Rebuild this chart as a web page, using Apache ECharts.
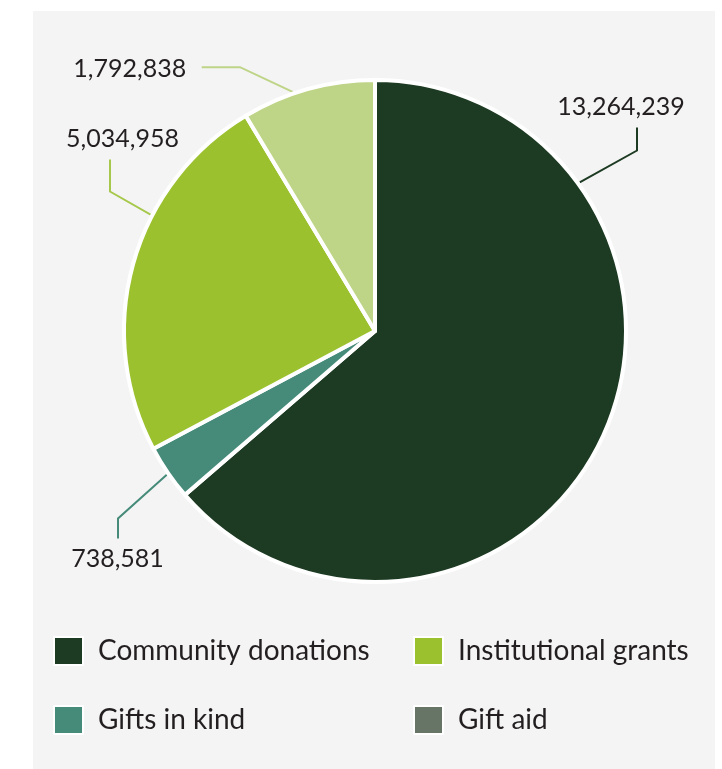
<!DOCTYPE html>
<html>
<head>
<meta charset="utf-8">
<script src="https://cdn.jsdelivr.net/npm/echarts@6/dist/echarts.min.js"></script>
<style>
  html, body { margin: 0; padding: 0; background: #ffffff; }
  #panel { position: absolute; left: 33px; top: 11px; width: 682px; height: 758px; }
</style>
</head>
<body>
<div id="panel"></div>
<script>
// Income sources (values in currency units)
const categories = ['Community donations', 'Gifts in kind', 'Institutional grants', 'Gift aid'];
const values = [13264239, 738581, 5034958, 1792838];

// Slice, legend swatch and leader-line colours
const sliceColors  = ['#1d3a22', '#468b79', '#9bc12e', '#bed486'];
const legendColors = ['#1d3a22', '#468b79', '#9bc12e', '#667566'];
const leaderColors = ['#1d3a22', '#468b79', '#a6c84a', '#bed486'];

// Leader-line guides, relative to the pie centre (angle in degrees clockwise from 12 o'clock)
const guides = [
  { angle: 54,    rFrac: 1.0,  elbow: [262, -180.5],   end: [262, -203.5],   text: [246, -224.5] },
  { angle: 235.4, rFrac: 1.0,  elbow: [-257, 187.5],   end: [-257, 207.5],   text: [-257.5, 227.5] },
  { angle: 296.8, rFrac: 0.78, elbow: [-265, -139.5],  end: [-265, -171.5],  text: [-252.5, -192.5] },
  { angle: 341,   rFrac: 1.0,  elbow: [-135, -263.8],  end: [-173.3, -263.8], text: [-245.3, -261.7] }
];

const FONT = 'Lato, "Noto Sans", sans-serif';
const TEXT = '#231f20';
const CX = 342, CY = 320, R_OUT = 253;

const chart = echarts.init(document.getElementById('panel'), null, { renderer: 'canvas' });

const pieData = categories.map((name, i) => ({
  name,
  value: values[i],
  itemStyle: { color: sliceColors[i] },
  labelLine: { lineStyle: { color: leaderColors[i] } }
}));

const legendItem = i => ({ name: categories[i], itemStyle: { color: legendColors[i] } });

const legendBase = {
  orient: 'vertical',
  icon: 'rect',
  padding: 0,
  itemWidth: 29,
  itemHeight: 28,
  itemGap: 39,
  selectedMode: false,
  textStyle: { fontFamily: FONT, fontSize: 28, color: TEXT, padding: [0, 0, 0, 10] }
};

chart.setOption({
  backgroundColor: '#f4f4f4',
  animation: false,
  legend: [
    Object.assign({}, legendBase, { left: 20, top: 625, data: [legendItem(0), legendItem(1)] }),
    Object.assign({}, legendBase, { left: 380, top: 625, data: [legendItem(2), legendItem(3)] })
  ],
  series: [{
    type: 'pie',
    center: [CX, CY],
    radius: R_OUT - 2,
    startAngle: 90,
    clockwise: true,
    avoidLabelOverlap: false,
    silent: true,
    itemStyle: { borderColor: '#ffffff', borderWidth: 4 },
    label: {
      show: true,
      position: 'outside',
      fontFamily: FONT,
      fontSize: 25,
      color: TEXT,
      formatter: p => p.value.toLocaleString('en-US')
    },
    labelLine: { show: true, smooth: false, lineStyle: { width: 2 } },
    labelLayout: params => {
      const g = guides[params.dataIndex];
      const a = g.angle * Math.PI / 180;
      const ax = CX + Math.sin(a) * R_OUT * g.rFrac;
      const ay = CY - Math.cos(a) * R_OUT * g.rFrac;
      return {
        x: CX + g.text[0],
        y: CY + g.text[1],
        align: 'center',
        verticalAlign: 'middle',
        labelLinePoints: [
          [ax, ay],
          [CX + g.elbow[0], CY + g.elbow[1]],
          [CX + g.end[0], CY + g.end[1]]
        ]
      };
    },
    data: pieData
  }]
});
</script>
</body>
</html>
